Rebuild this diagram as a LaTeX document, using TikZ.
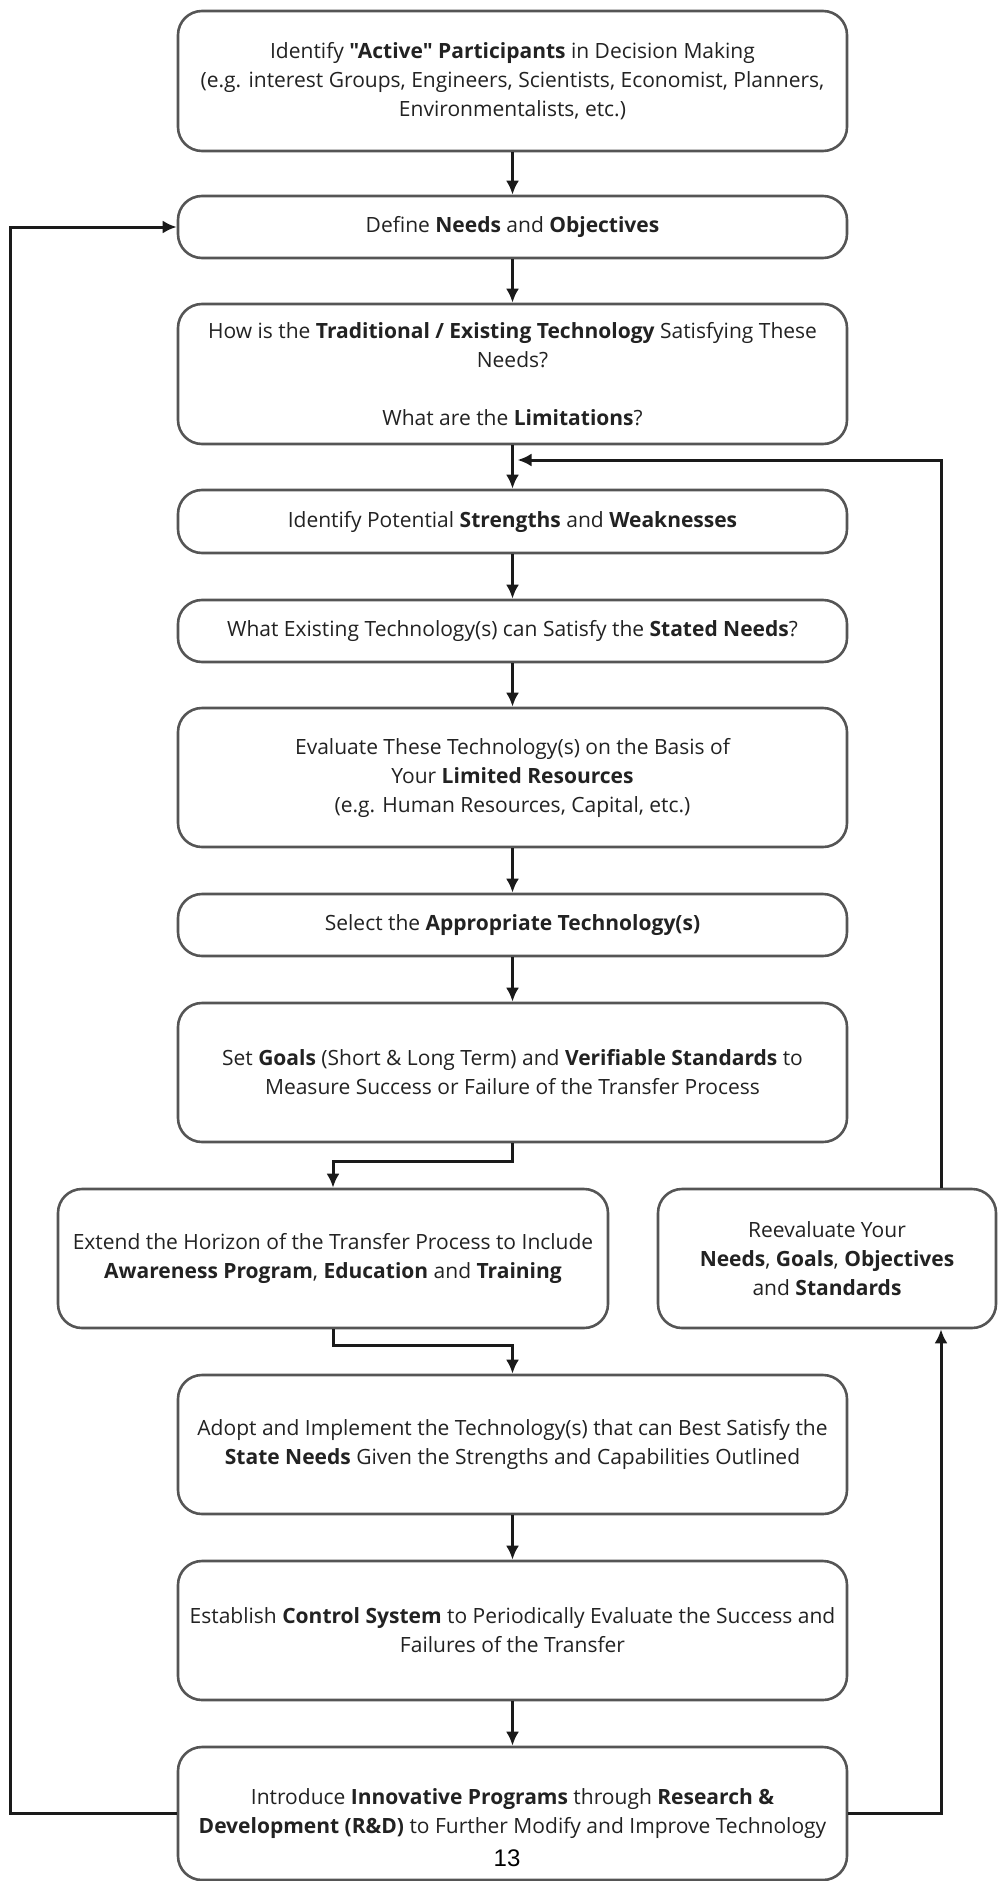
\documentclass[tikz,border=0pt]{standalone}
\usepackage{fontspec}
\setmainfont{Open Sans}[Ligatures=TeXOff]
\newfontfamily\numfont{Liberation Sans}
\usetikzlibrary{arrows.meta}
\definecolor{boxgray}{HTML}{555555}
\definecolor{textdark}{HTML}{222222}
\definecolor{linedark}{HTML}{1A1A1A}

\begin{document}
\begin{tikzpicture}[x=1pt,y=-1pt,
  stepbox/.style={draw=boxgray, line width=2.6pt, rounded corners=24pt, fill=white,
    align=center, text=textdark, inner sep=0pt,
    font=\fontsize{21}{29}\selectfont},
  wide/.style={minimum width=669pt},
  flow/.style={draw=linedark, line width=3pt, line join=miter,
    -{Latex[length=14pt,width=13pt]}},
]
\useasboundingbox (0,0) rectangle (998,1881);

% main column of steps
\node[stepbox, wide, minimum height=140pt] (b1) at (512.5,81)
  {Identify \textbf{\symbol{34}Active\symbol{34} Participants} in Decision Making\\
   (e.g. interest Groups, Engineers, Scientists, Economist, Planners,\\
   Environmentalists, etc.)};
\node[stepbox, wide, minimum height=62pt] (b2) at (512.5,227)
  {Define \textbf{Needs} and \textbf{Objectives}};
\node[stepbox, wide, minimum height=140pt] (b3) at (512.5,374)
  {How is the \textbf{Traditional / Existing Technology} Satisfying These\\
   Needs?\\[29pt]
   What are the \textbf{Limitations}?};
\node[stepbox, wide, minimum height=63pt] (b4) at (512.5,521.5)
  {Identify Potential \textbf{Strengths} and \textbf{Weaknesses}};
\node[stepbox, wide, minimum height=62pt] (b5) at (512.5,631)
  {What Existing Technology(s) can Satisfy the \textbf{Stated Needs}?};
\node[stepbox, wide, minimum height=139pt] (b6) at (512.5,777.5)
  {Evaluate These Technology(s) on the Basis of\\
   Your \textbf{Limited Resources}\\
   (e.g. Human Resources, Capital, etc.)};
\node[stepbox, wide, minimum height=62pt] (b7) at (512.5,925)
  {Select the \textbf{Appropriate Technology(s)}};
\node[stepbox, wide, minimum height=139pt] (b8) at (512.5,1072.5)
  {Set \textbf{Goals} (Short \& Long Term) and \textbf{Verifiable Standards} to\\
   Measure Success or Failure of the Transfer Process};

% side-by-side pair
\node[stepbox, minimum width=550pt, minimum height=139pt] (b9) at (333,1258.5)
  {Extend the Horizon of the Transfer Process to Include\\
   \textbf{Awareness Program}, \textbf{Education} and \textbf{Training}};
\node[stepbox, minimum width=338pt, minimum height=139pt] (b10) at (827,1258.5)
  {Reevaluate Your\\
   \textbf{Needs}, \textbf{Goals}, \textbf{Objectives}\\
   and \textbf{Standards}};

\node[stepbox, wide, minimum height=139pt] (b11) at (512.5,1444.5)
  {Adopt and Implement the Technology(s) that can Best Satisfy the\\
   \textbf{State Needs} Given the Strengths and Capabilities Outlined};
\node[stepbox, wide, minimum height=139pt] (b12) at (512.5,1630.5)
  {Establish \textbf{Control System} to Periodically Evaluate the Success and\\
   Failures of the Transfer};
\node[stepbox, wide, minimum height=133pt] (b13) at (512.5,1813.5)
  {Introduce \textbf{Innovative Programs} through \textbf{Research \&}\\
   \textbf{Development (R\&D)} to Further Modify and Improve Technology};

% page number
\node[font=\numfont\fontsize{24}{24}\selectfont, text=black] (pg) at (507,1858) {13};

% straight flow
\draw[flow] (b1.south) -- (b2.north);
\draw[flow] (b2.south) -- (b3.north);
\draw[flow] (b3.south) -- (b4.north);
\draw[flow] (b4.south) -- (b5.north);
\draw[flow] (b5.south) -- (b6.north);
\draw[flow] (b6.south) -- (b7.north);
\draw[flow] (b7.south) -- (b8.north);
\draw[flow] (b8.south) -- ++(0,18) -| (b9.north);
\draw[flow] (b9.south) -- ++(0,16) -| (b11.north);
\draw[flow] (b11.south) -- (b12.north);
\draw[flow] (b12.south) -- (b13.north);

% feedback loops
\coordinate (lft) at (10,0);
\coordinate (rgt) at (941,0);
\coordinate (ret) at (941,460);
\draw[flow] (b13.west) -- (b13.west -| lft) -- (lft |- b2.west) -- (b2.west);
\draw[flow] (b13.east) -- (b13.east -| rgt) -- (rgt |- b10.south);
\draw[flow, shorten >=5pt] (rgt |- b10.north) -- (ret) -- (ret -| b3.south);
\end{tikzpicture}
\end{document}
